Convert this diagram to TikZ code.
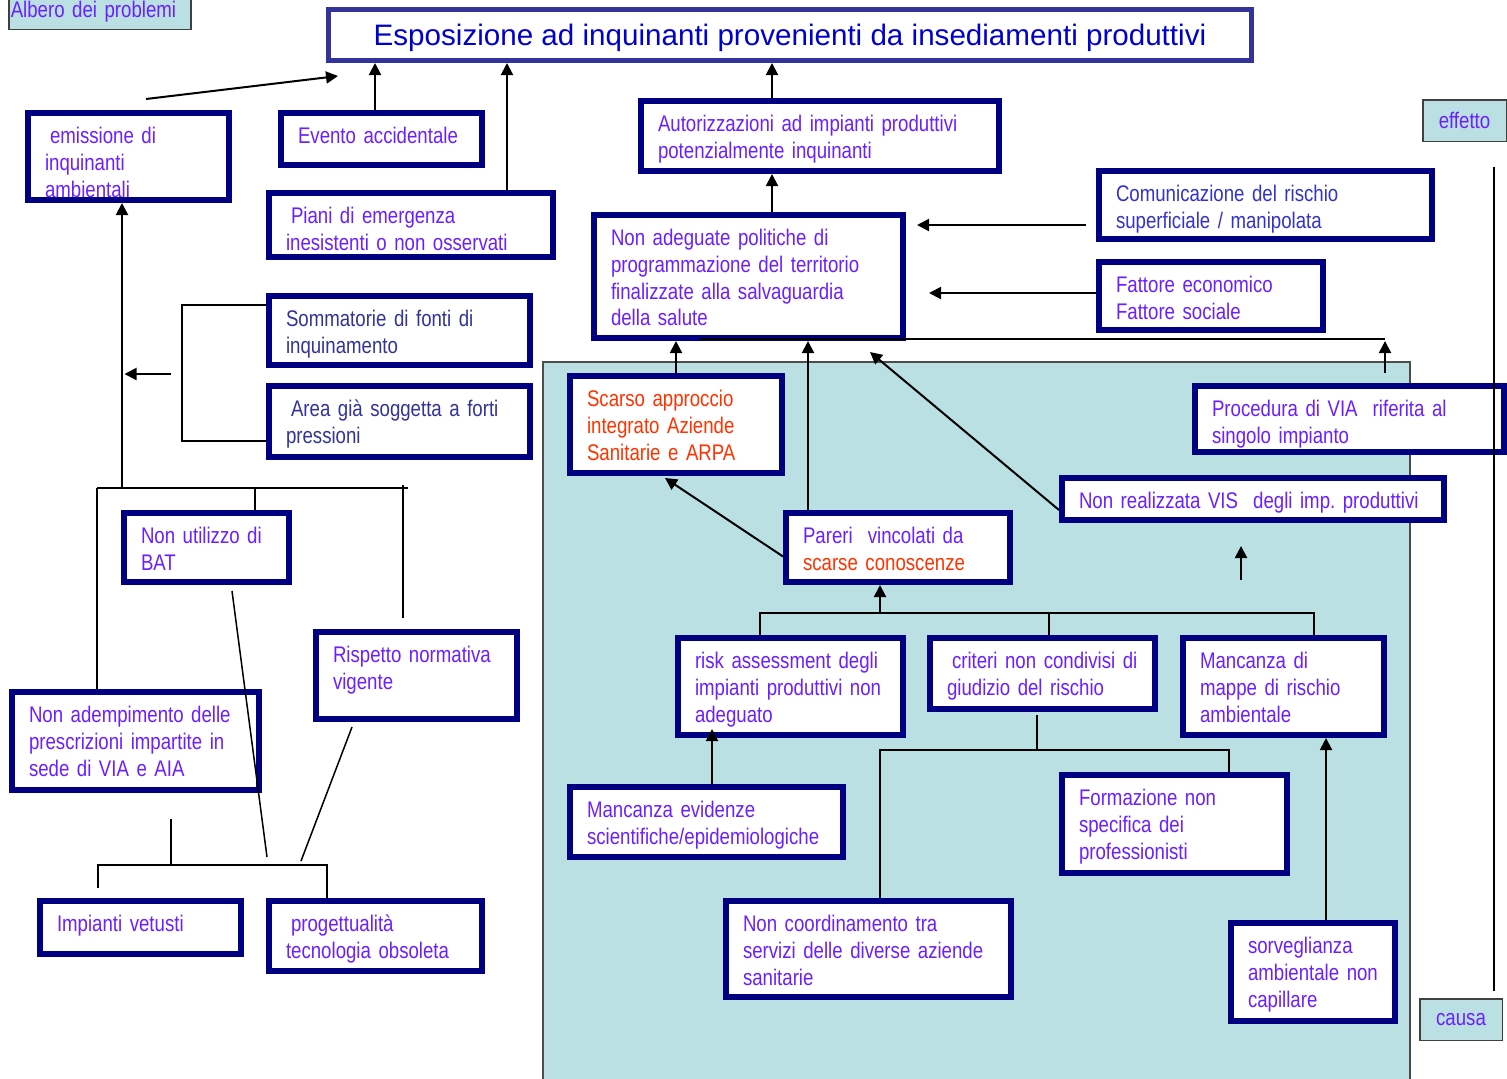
\documentclass[tikz,border=0pt]{standalone}
\usepackage{fontspec}
\setmainfont{Liberation Sans}
\newfontfamily\narrowfont{Liberation Sans}[FakeStretch=0.825]
\usetikzlibrary{calc,arrows.meta}
\definecolor{boxnavy}{HTML}{000080}
\definecolor{titleblue}{HTML}{333399}
\definecolor{txtviolet}{HTML}{6C1FFF}
\definecolor{txtred}{HTML}{FF3300}
\definecolor{txttitle}{HTML}{0000CC}
\definecolor{txtblue}{HTML}{3333CC}
\definecolor{txtdark}{HTML}{333399}
\definecolor{panelteal}{HTML}{BAE0E3}
\frenchspacing

\tikzset{
  prob/.style={draw=boxnavy, line width=3pt, fill=white, anchor=north west,
    inner xsep=8.5pt, inner ysep=0pt, text height=15.25pt, align=left,
    text=txtviolet, font=\narrowfont\fontsize{11.3pt}{13.4pt}\selectfont},
  tag/.style={draw=black!75, line width=0.75pt, fill=panelteal, inner sep=0pt,
    text=txtviolet, font=\narrowfont\fontsize{11.3pt}{13.4pt}\selectfont},
  arr/.style={line width=1pt, -{Triangle[length=6pt,width=6pt]}},
  tline/.style={line width=0.75pt}
}

\begin{document}
\begin{tikzpicture}[x=0.5pt, y=-0.5pt]
\useasboundingbox (0,0) rectangle (1507,1078);
\draw[black!70, line width=0.6pt, fill=panelteal] (543,362) rectangle (1410,1095);

\node[tag, anchor=base west, text width=89pt, inner xsep=1pt, align=left,
      text height=25pt, text depth=6.2pt] (albero) at (8,17) {Albero dei problemi};
\node[draw=titleblue, line width=2.5pt, fill=white, anchor=north west, inner sep=0pt,
      minimum width=461.5pt, minimum height=25.5pt, text=txttitle,
      text height=11pt, text depth=1pt,
      font=\fontsize{14.8pt}{17pt}\selectfont] (title) at (326,7)
  {Esposizione ad inquinanti provenienti da insediamenti produttivi};
\node[tag, anchor=north west, minimum width=41.75pt, minimum height=20.75pt] (eff) at (1422,99) {effetto};
\node[tag, anchor=north west, minimum width=41.25pt, minimum height=20.75pt] (causa) at (1419,998) {causa};

\node[prob, text width=83.5pt, text depth=28.25pt] (emis) at (25,110) {\hspace{2.5pt}emissione di\\inquinanti\\ambientali};
\node[prob, text width=83.5pt, text depth=10.75pt] (evento) at (278,110) {Evento accidentale};
\node[prob, text width=125pt, text depth=16.75pt] (piani) at (266,190) {\hspace{2.5pt}Piani di emergenza\\inesistenti o non osservati};
\node[prob, text width=162pt, text depth=19.75pt] (autor) at (638,98) {Autorizzazioni ad impianti produttivi\\potenzialmente inquinanti};
\node[prob, text width=149.5pt, text depth=18.75pt, text=txtblue] (comunic) at (1096,168) {Comunicazione del rischio\\superficiale / manipolata};
\node[prob, text width=137.5pt, text depth=46.25pt] (nonadeg) at (591,212) {Non adeguate politiche di\\programmazione del territorio\\finalizzate alla salvaguardia\\della salute};
\node[prob, text width=95pt, text depth=18.75pt] (fattore) at (1096,259) {Fattore economico\\Fattore sociale};
\node[prob, text width=113.5pt, text depth=19.25pt, text=txtdark] (sommat) at (266,293) {Sommatorie di fonti di\\inquinamento};
\node[prob, text width=113.5pt, text depth=20.25pt, text=txtdark] (area) at (266,383) {\hspace{2.5pt}Area già soggetta a forti\\pressioni};
\node[prob, text width=89pt, text depth=33.25pt, text=txtred] (scarso) at (567,373) {Scarso approccio\\integrato Aziende\\Sanitarie e ARPA};
\node[prob, text width=137.5pt, text depth=17.75pt] (proc) at (1192,383) {Procedura di VIA\ \ riferita al\\singolo impianto};
\node[prob, text width=174pt, text depth=5.75pt] (vis) at (1059,475) {\mbox{Non realizzata VIS\ \ degli imp. produttivi}};
\node[prob, text width=95pt, text depth=19.25pt] (pareri) at (783,510) {Pareri\ \ vincolati da\\\textcolor{txtred}{scarse conoscenze}};
\node[prob, text width=65.5pt, text depth=19.25pt] (bat) at (121,510) {\mbox{Non utilizzo di}\\BAT};
\node[prob, text width=83.5pt, text depth=28.25pt] (risp) at (313,629) {\mbox{Rispetto normativa}\\vigente};
\node[prob, text width=106.5pt, text depth=33.75pt] (adem) at (9,689) {\mbox{Non adempimento delle}\\\mbox{prescrizioni impartite in}\\sede di VIA e AIA};
\node[prob, text width=95.5pt, text depth=33.25pt] (risk) at (675,635) {\mbox{risk assessment degli}\\\mbox{impianti produttivi non}\\adeguato};
\node[prob, text width=95.5pt, text depth=20.25pt] (criteri) at (927,635) {\mbox{\hspace{2.5pt}criteri non condivisi di}\\giudizio del rischio};
\node[prob, text width=83.5pt, text depth=33.25pt] (mappe) at (1180,635) {Mancanza di\\mappe di rischio\\ambientale};
\node[prob, text width=119.5pt, text depth=19.75pt] (evid) at (567,784) {Mancanza evidenze\\\mbox{scientifiche/epidemiologiche}};
\node[prob, text width=95.5pt, text depth=33.75pt] (form) at (1059,772) {Formazione non\\specifica dei\\professionisti};
\node[prob, text width=125.5pt, text depth=32.75pt] (coord) at (723,898) {Non coordinamento tra\\\mbox{servizi delle diverse aziende}\\sanitarie};
\node[prob, text width=65pt, text depth=33.75pt] (sorv) at (1228,920) {sorveglianza\\\mbox{ambientale non}\\capillare};
\node[prob, text width=83.5pt, text depth=11.25pt] (vet) at (37,898) {Impianti vetusti};
\node[prob, text width=89.5pt, text depth=19.75pt] (prog) at (266,898) {\hspace{2.5pt}progettualità\\tecnologia obsoleta};

\draw[arr] ([shift={(17.5,-11)}]emis.north) -- ([shift={(12,13)}]title.south west);
\draw[arr] ([shift={(-6.5,0)}]evento.north) -- ([shift={(-6.5,0)}]evento.north |- title.south);
\draw[arr] ([shift={(96,0)}]piani.north) -- ([shift={(96,0)}]piani.north |- title.south);
\draw[arr] ([shift={(-48,0)}]autor.north) -- ([shift={(-48,0)}]autor.north |- title.south);
\draw[arr] ([shift={(23.5,0)}]nonadeg.north) -- ([shift={(23.5,0)}]nonadeg.north |- autor.south);
\draw[arr] ([shift={(-10,20)}]comunic.west) -- ([shift={(11,20)}]nonadeg.east |- comunic.west);
\draw[arr] ([shift={(0,-3)}]fattore.west) -- ([shift={(23,-3)}]nonadeg.east |- fattore.west);
\draw[tline] ([shift={(-48.5,-2)}]nonadeg.south) -- ([shift={(35.5,-2)}]proc.north |- nonadeg.south);
\draw[arr] ([shift={(35.5,-10)}]proc.north) -- ([shift={(35.5,0)}]proc.north |- nonadeg.south);
\draw[arr] (scarso.north) -- (scarso.north |- nonadeg.south);
\draw[arr] ([shift={(-90,0)}]pareri.north) -- ([shift={(-90,0)}]pareri.north |- nonadeg.south);
\draw[arr] ([shift={(0,11)}]vis.west) -- ([shift={(-36,11)}]nonadeg.south east);
\draw[arr] ([shift={(0,9)}]pareri.west) -- ([shift={(-11,2)}]scarso.south);
\draw[arr] ([shift={(-12,57)}]vis.south) -- ([shift={(-12,23)}]vis.south);

\draw[arr] ([shift={(-18,28)}]pareri.south) -- ([shift={(-18,0)}]pareri.south);
\draw[tline] ([shift={(-30.5,0)}]risk.north) -- ++(0,-22) -| ([shift={(30.5,0)}]mappe.north);
\draw[tline] ([shift={(6.5,0)}]criteri.north) -- ++(0,-22);
\draw[tline] ([shift={(-5.5,3)}]criteri.south) -- ++(0,35);
\draw[tline] ([shift={(11.5,0)}]coord.north) -- ++(0,-148) -| ([shift={(54.5,0)}]form.north);
\draw[arr] ([shift={(5.5,0)}]evid.north) -- ([shift={(5.5,-9)}]evid.north |- risk.south);
\draw[arr] ([shift={(13,0)}]sorv.north) -- ([shift={(13,0)}]sorv.north |- mappe.south);

\coordinate (busL) at (97,488);
\coordinate (busR) at (408,488);
\coordinate (brk) at (171,374);
\draw[tline] (busL) -- (busR);
\draw[tline] (busL) -- (busL |- adem.north);
\draw[tline] ([shift={(48.5,0)}]bat.north) -- ([shift={(48.5,0)}]bat.north |- busL);
\draw[tline] ([shift={(-5,-3)}]busR) -- ([shift={(-5,-11)}]busR |- risp.north);
\draw[arr] ([shift={(25,0)}]busL) -- ([shift={(25,0)}]busL |- emis.south);
\draw[tline] ([shift={(0,-25.5)}]sommat.west) -- ++(-84,0) |- ([shift={(0,19.5)}]area.west);
\draw[arr] (brk) -- ([shift={(-4,0)}]brk -| emis.south);
\draw[tline] ([shift={(25.5,6)}]bat.south) -- ([shift={(-108.5,-41)}]prog.north);
\draw[tline] ([shift={(-64.5,5)}]risp.south) -- ([shift={(-74.5,-37)}]prog.north);
\draw[tline] ([shift={(-42.5,-10)}]vet.north) -- ++(0,-23) -| ([shift={(-48.5,0)}]prog.north);
\draw[tline] ([shift={(30.5,-33)}]vet.north) -- ++(0,-46);
\draw[tline] ([shift={(29.5,25)}]eff.south) -- ([shift={(33,-7)}]causa.north);
\end{tikzpicture}
\end{document}
